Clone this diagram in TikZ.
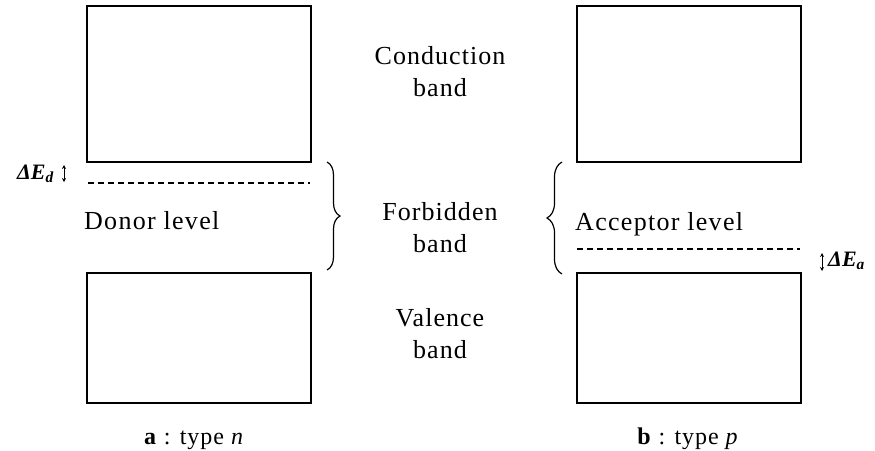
\documentclass[tikz,border=0pt]{standalone}
\usepackage{fontspec}
\setmainfont{Liberation Serif}
\newfontfamily\bandfont[LetterSpace=4]{Liberation Serif}
\newfontfamily\levelfont[LetterSpace=5]{Liberation Serif}
\usetikzlibrary{decorations.pathreplacing,arrows.meta}
\begin{document}
\begin{tikzpicture}[x=1pt,y=-1pt,
  bandbox/.style={draw, line width=2pt, inner sep=0pt, outer sep=0pt, minimum width=224pt},
  levelline/.style={line width=1.3pt, dash pattern=on 6pt off 4pt},
  bracest/.style={line width=1.2pt, decorate},
  bandlabel/.style={align=center, font=\bandfont\fontsize{26}{32}\selectfont, inner sep=0pt},
  levellabel/.style={font=\levelfont\fontsize{26}{30}\selectfont, inner sep=0pt, anchor=base west},
  deltalabel/.style={font=\bfseries\itshape\fontsize{22}{24}\selectfont, inner sep=0pt, anchor=base west},
  caption/.style={font=\bandfont\fontsize{24}{26}\selectfont, inner sep=0pt, anchor=base},
  gaparrow/.style={line width=1pt, {Stealth[length=4pt,width=4pt]}-{Stealth[length=4pt,width=4pt]}}]
\useasboundingbox (0,0) rectangle (875,450);
% boxes
\node[bandbox, minimum height=156pt] (lt) at (199,84) {};
\node[bandbox, minimum height=130pt] (lb) at (199,338) {};
\node[bandbox, minimum height=156pt] (rt) at (688.5,84) {};
\node[bandbox, minimum height=130pt] (rb) at (688.5,338) {};
% level lines
\coordinate (dl1) at (88,183);
\coordinate (dl2) at (310,183);
\coordinate (al1) at (577,249);
\coordinate (al2) at (800,249);
\draw[levelline] (dl1) -- (dl2);
\draw[levelline] (al1) -- (al2);
% braces
\coordinate (lb1) at (327,162);
\coordinate (lb2) at (327,270);
\coordinate (rb1) at (562,274);
\coordinate (rb2) at (562,162);
\draw[bracest, decoration={brace, amplitude=13pt}] (lb1) -- (lb2);
\draw[bracest, decoration={brace, amplitude=15pt}] (rb1) -- (rb2);
% gap arrows
\coordinate (ga1) at (64,165);
\coordinate (ga2) at (64,182);
\coordinate (gb1) at (822,253);
\coordinate (gb2) at (822,271);
\draw[gaparrow] (ga1) -- (ga2);
\draw[gaparrow] (gb1) -- (gb2);
% labels
\node[bandlabel] (cond) at (440,72) {Conduction\\band};
\node[bandlabel] (forb) at (440,228) {Forbidden\\band};
\node[bandlabel] (val) at (440,334) {Valence\\band};
\node[levellabel] (donor) at (84,229) {Donor level};
\node[levellabel] (acc) at (575,230) {Acceptor level};
\node[deltalabel] (ded) at (17,179) {ΔE\textsubscript{d}};
\node[deltalabel] (dea) at (828,266) {ΔE\textsubscript{a}};
\node[caption] (capa) at (194,444) {\textbf{a} : type \textit{n}};
\node[caption] (capb) at (688,444) {\textbf{b} : type \textit{p}};
\end{tikzpicture}
\end{document}
